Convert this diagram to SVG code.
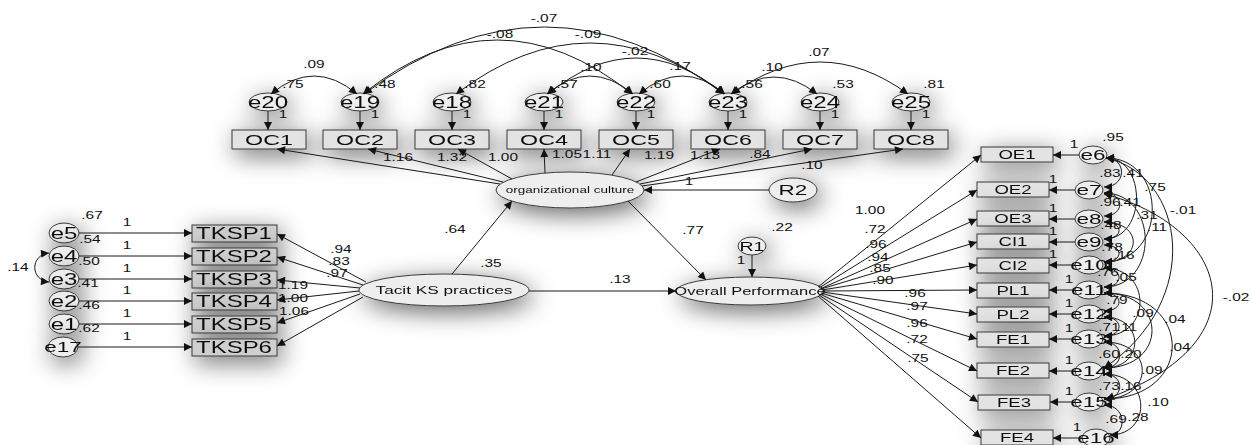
<svg xmlns="http://www.w3.org/2000/svg" width="1251" height="445" viewBox="0 0 1251 445">
<defs>
<marker id="ah" viewBox="0 0 10 10" refX="10" refY="5" markerWidth="10" markerHeight="8" markerUnits="userSpaceOnUse" orient="auto-start-reverse"><path d="M0,0 L10,5 L0,10 z" fill="#111"/></marker>
<filter id="sh" x="-100%" y="-300%" width="300%" height="700%">
<feGaussianBlur in="SourceAlpha" stdDeviation="12"/>
<feOffset dx="4" dy="6" result="b"/>
<feFlood flood-color="#000" flood-opacity="0.6"/>
<feComposite in2="b" operator="in"/>
<feMerge><feMergeNode/><feMergeNode in="SourceGraphic"/></feMerge>
</filter>
</defs>
<style>
.ln{stroke:#1a1a1a;stroke-width:1;fill:none;marker-end:url(#ah)}
.cv{stroke:#1a1a1a;stroke-width:1;fill:none;marker-start:url(#ah);marker-end:url(#ah)}
.box{fill:#e3e3e3;stroke:#3a3a3a;stroke-width:1}
.bxd{fill:#cfcfcf;stroke:#3a3a3a;stroke-width:1}
.el{fill:#eeeeee;stroke:#3a3a3a;stroke-width:1}
text{font-family:"Liberation Sans",Arial,sans-serif;fill:#111;text-anchor:middle;transform-box:fill-box;transform-origin:center;transform:scaleX(1.5)}
.n{font-size:11px;transform:scaleX(1.4)}
.oc{font-size:15.5px}
.tk{font-size:16px}
.et{font-size:16px}
.er{font-size:15px}
.rb{font-size:12px;transform:scaleX(1.55)}
</style>
<rect width="1251" height="445" fill="#ffffff"/>

<!-- top error terms -->
<g id="e20" filter="url(#sh)"><ellipse class="el" cx="268" cy="102" rx="19" ry="9"/><text class="et" x="268" y="108">e20</text></g>
<g id="e19" filter="url(#sh)"><ellipse class="el" cx="360" cy="102" rx="19" ry="9"/><text class="et" x="360" y="108">e19</text></g>
<g id="e18" filter="url(#sh)"><ellipse class="el" cx="452" cy="102" rx="19" ry="9"/><text class="et" x="452" y="108">e18</text></g>
<g id="e21" filter="url(#sh)"><ellipse class="el" cx="544" cy="102" rx="19" ry="9"/><text class="et" x="544" y="108">e21</text></g>
<g id="e22" filter="url(#sh)"><ellipse class="el" cx="636" cy="102" rx="19" ry="9"/><text class="et" x="636" y="108">e22</text></g>
<g id="e23" filter="url(#sh)"><ellipse class="el" cx="728" cy="102" rx="19" ry="9"/><text class="et" x="728" y="108">e23</text></g>
<g id="e24" filter="url(#sh)"><ellipse class="el" cx="820" cy="102" rx="19" ry="9"/><text class="et" x="820" y="108">e24</text></g>
<g id="e25" filter="url(#sh)"><ellipse class="el" cx="911" cy="102" rx="19" ry="9"/><text class="et" x="911" y="108">e25</text></g>

<!-- OC boxes -->
<g id="OC1" filter="url(#sh)"><rect class="box" x="232" y="130" width="74" height="19"/><text class="oc" x="269" y="145">OC1</text></g>
<g id="OC2" filter="url(#sh)"><rect class="box" x="323" y="130" width="74" height="19"/><text class="oc" x="360" y="145">OC2</text></g>
<g id="OC3" filter="url(#sh)"><rect class="box" x="415" y="130" width="74" height="19"/><text class="oc" x="452" y="145">OC3</text></g>
<g id="OC4" filter="url(#sh)"><rect class="box" x="507" y="130" width="74" height="19"/><text class="oc" x="544" y="145">OC4</text></g>
<g id="OC5" filter="url(#sh)"><rect class="box" x="599" y="130" width="74" height="19"/><text class="oc" x="636" y="145">OC5</text></g>
<g id="OC6" filter="url(#sh)"><rect class="box" x="691" y="130" width="74" height="19"/><text class="oc" x="728" y="145">OC6</text></g>
<g id="OC7" filter="url(#sh)"><rect class="box" x="783" y="130" width="74" height="19"/><text class="oc" x="820" y="145">OC7</text></g>
<g id="OC8" filter="url(#sh)"><rect class="box" x="874" y="130" width="74" height="19"/><text class="oc" x="911" y="145">OC8</text></g>

<!-- latent variables -->
<g id="orgculture" filter="url(#sh)"><ellipse class="el" cx="570" cy="190" rx="74" ry="18"/><text x="570" y="193" font-size="9">organizational culture</text></g>
<g id="R2" filter="url(#sh)"><ellipse class="el" cx="793" cy="190" rx="24" ry="12"/><text x="793" y="195" font-size="15">R2</text></g>
<g id="R1" filter="url(#sh)"><ellipse class="el" cx="752" cy="246" rx="14" ry="9"/><text x="752" y="251" font-size="13">R1</text></g>
<g id="tacit" filter="url(#sh)"><ellipse class="el" cx="444" cy="290" rx="85" ry="16"/><text x="444" y="294" font-size="11.5">Tacit KS practices</text></g>
<g id="overall" filter="url(#sh)"><ellipse class="el" cx="750" cy="291" rx="74" ry="14"/><text x="750" y="295" font-size="11">Overall Performance</text></g>

<!-- TKSP boxes -->
<g id="TKSP1" filter="url(#sh)"><rect class="bxd" x="192" y="225" width="85" height="17"/><text class="tk" x="234" y="239">TKSP1</text></g>
<g id="TKSP2" filter="url(#sh)"><rect class="bxd" x="192" y="248" width="85" height="17"/><text class="tk" x="234" y="262">TKSP2</text></g>
<g id="TKSP3" filter="url(#sh)"><rect class="bxd" x="192" y="271" width="85" height="17"/><text class="tk" x="234" y="285">TKSP3</text></g>
<g id="TKSP4" filter="url(#sh)"><rect class="bxd" x="192" y="293" width="85" height="17"/><text class="tk" x="234" y="307">TKSP4</text></g>
<g id="TKSP5" filter="url(#sh)"><rect class="bxd" x="192" y="316" width="85" height="17"/><text class="tk" x="234" y="330">TKSP5</text></g>
<g id="TKSP6" filter="url(#sh)"><rect class="bxd" x="192" y="339" width="85" height="17"/><text class="tk" x="234" y="353">TKSP6</text></g>

<!-- left error terms -->
<g id="e5" filter="url(#sh)"><ellipse class="el" cx="64" cy="233" rx="15" ry="10"/><text class="et" x="64" y="239">e5</text></g>
<g id="e4" filter="url(#sh)"><ellipse class="el" cx="64" cy="256" rx="15" ry="10"/><text class="et" x="64" y="262">e4</text></g>
<g id="e3" filter="url(#sh)"><ellipse class="el" cx="64" cy="279" rx="15" ry="10"/><text class="et" x="64" y="285">e3</text></g>
<g id="e2" filter="url(#sh)"><ellipse class="el" cx="64" cy="301" rx="15" ry="10"/><text class="et" x="64" y="307">e2</text></g>
<g id="e1" filter="url(#sh)"><ellipse class="el" cx="64" cy="324" rx="15" ry="10"/><text class="et" x="64" y="330">e1</text></g>
<g id="e17" filter="url(#sh)"><ellipse class="el" cx="63" cy="347" rx="15" ry="10"/><text class="er" x="63" y="352">e17</text></g>

<!-- right boxes -->
<g id="OE1" filter="url(#sh)"><rect class="box" x="981" y="147" width="72" height="15"/><text class="rb" x="1017" y="159">OE1</text></g>
<g id="OE2" filter="url(#sh)"><rect class="box" x="977" y="182" width="72" height="15"/><text class="rb" x="1013" y="194">OE2</text></g>
<g id="OE3" filter="url(#sh)"><rect class="box" x="977" y="211" width="72" height="15"/><text class="rb" x="1013" y="223">OE3</text></g>
<g id="CI1" filter="url(#sh)"><rect class="box" x="977" y="234" width="72" height="15"/><text class="rb" x="1013" y="246">CI1</text></g>
<g id="CI2" filter="url(#sh)"><rect class="box" x="977" y="258" width="72" height="15"/><text class="rb" x="1013" y="270">CI2</text></g>
<g id="PL1" filter="url(#sh)"><rect class="box" x="977" y="283" width="72" height="15"/><text class="rb" x="1013" y="295">PL1</text></g>
<g id="PL2" filter="url(#sh)"><rect class="box" x="977" y="307" width="72" height="15"/><text class="rb" x="1013" y="319">PL2</text></g>
<g id="FE1" filter="url(#sh)"><rect class="box" x="977" y="332" width="72" height="15"/><text class="rb" x="1013" y="344">FE1</text></g>
<g id="FE2" filter="url(#sh)"><rect class="box" x="977" y="363" width="72" height="15"/><text class="rb" x="1013" y="375">FE2</text></g>
<g id="FE3" filter="url(#sh)"><rect class="box" x="978" y="395" width="72" height="15"/><text class="rb" x="1014" y="407">FE3</text></g>
<g id="FE4" filter="url(#sh)"><rect class="box" x="981" y="430" width="72" height="15"/><text class="rb" x="1017" y="442">FE4</text></g>

<!-- right error terms -->
<g id="e6" filter="url(#sh)"><ellipse class="el" cx="1093" cy="155" rx="14" ry="9"/><text class="er" x="1093" y="160">e6</text></g>
<g id="e7" filter="url(#sh)"><ellipse class="el" cx="1089" cy="190" rx="14" ry="9"/><text class="er" x="1089" y="195">e7</text></g>
<g id="e8" filter="url(#sh)"><ellipse class="el" cx="1089" cy="219" rx="14" ry="9"/><text class="er" x="1089" y="224">e8</text></g>
<g id="e9" filter="url(#sh)"><ellipse class="el" cx="1089" cy="242" rx="14" ry="9"/><text class="er" x="1089" y="247">e9</text></g>
<g id="e10" filter="url(#sh)"><ellipse class="el" cx="1089" cy="265" rx="14" ry="9"/><text class="er" x="1089" y="270">e10</text></g>
<g id="e11" filter="url(#sh)"><ellipse class="el" cx="1089" cy="290" rx="14" ry="9"/><text class="er" x="1089" y="295">e11</text></g>
<g id="e12" filter="url(#sh)"><ellipse class="el" cx="1089" cy="314" rx="14" ry="9"/><text class="er" x="1089" y="319">e12</text></g>
<g id="e13" filter="url(#sh)"><ellipse class="el" cx="1089" cy="339" rx="14" ry="9"/><text class="er" x="1089" y="344">e13</text></g>
<g id="e14" filter="url(#sh)"><ellipse class="el" cx="1089" cy="371" rx="14" ry="9"/><text class="er" x="1089" y="376">e14</text></g>
<g id="e15" filter="url(#sh)"><ellipse class="el" cx="1089" cy="402" rx="14" ry="9"/><text class="er" x="1089" y="407">e15</text></g>
<g id="e16" filter="url(#sh)"><ellipse class="el" cx="1096" cy="438" rx="14" ry="9"/><text class="er" x="1096" y="443">e16</text></g>

<g id="connectors">
<path class="ln" d="M268,111 L268,130"/>
<path class="ln" d="M360,111 L360,130"/>
<path class="ln" d="M452,111 L452,130"/>
<path class="ln" d="M544,111 L544,130"/>
<path class="ln" d="M636,111 L636,130"/>
<path class="ln" d="M728,111 L728,130"/>
<path class="ln" d="M820,111 L820,130"/>
<path class="ln" d="M911,111 L911,130"/>
<path class="cv" d="M271,94 Q314,58 357,94"/>
<path class="cv" d="M364,94 Q545,-40 724,94"/>
<path class="cv" d="M363,94 Q497,-14 632,94"/>
<path class="cv" d="M456,94 Q590,-8 724,94"/>
<path class="cv" d="M548,94 Q636,22 724,94"/>
<path class="cv" d="M547,94 Q590,58 633,94"/>
<path class="cv" d="M639,94 Q682,58 725,94"/>
<path class="cv" d="M731,94 Q774,60 817,94"/>
<path class="cv" d="M732,94 Q820,30 908,94"/>
<path class="ln" d="M500,184 L277,149"/>
<path class="ln" d="M503,182 L368,149"/>
<path class="ln" d="M512,179 L458,149"/>
<path class="ln" d="M545,173 L544,149"/>
<path class="ln" d="M612,175 L630,149"/>
<path class="ln" d="M636,182 L720,149"/>
<path class="ln" d="M640,184 L812,149"/>
<path class="ln" d="M642,186 L903,149"/>
<path class="ln" d="M769,190 L644,190"/>
<path class="ln" d="M452,274 L512,201"/>
<path class="ln" d="M628,201 L706,280"/>
<path class="ln" d="M529,291 L676,291"/>
<path class="ln" d="M752,255 L752,277"/>
<path class="ln" d="M366,282 L277,234"/>
<path class="ln" d="M363,285 L277,257"/>
<path class="ln" d="M360,288 L277,280"/>
<path class="ln" d="M359,291 L277,300"/>
<path class="ln" d="M360,294 L277,323"/>
<path class="ln" d="M363,297 L277,346"/>
<path class="ln" d="M79,233 L192,233"/>
<path class="ln" d="M79,256 L192,256"/>
<path class="ln" d="M79,279 L192,279"/>
<path class="ln" d="M79,301 L192,301"/>
<path class="ln" d="M79,324 L192,324"/>
<path class="ln" d="M78,347 L192,347"/>
<path class="cv" d="M49,253 C30,255 30,280 49,282"/>
<path class="ln" d="M818,287 L981,155"/>
<path class="ln" d="M819,288 L977,190"/>
<path class="ln" d="M820,289 L977,219"/>
<path class="ln" d="M821,289 L977,242"/>
<path class="ln" d="M822,290 L977,265"/>
<path class="ln" d="M823,291 L977,290"/>
<path class="ln" d="M822,292 L977,314"/>
<path class="ln" d="M821,293 L977,339"/>
<path class="ln" d="M820,294 L977,371"/>
<path class="ln" d="M819,295 L978,402"/>
<path class="ln" d="M818,296 L981,438"/>
<path class="ln" d="M1079,155 L1053,155"/>
<path class="ln" d="M1075,190 L1049,190"/>
<path class="ln" d="M1075,219 L1049,219"/>
<path class="ln" d="M1075,242 L1049,242"/>
<path class="ln" d="M1075,265 L1049,265"/>
<path class="ln" d="M1075,290 L1049,290"/>
<path class="ln" d="M1075,314 L1049,314"/>
<path class="ln" d="M1075,339 L1049,339"/>
<path class="ln" d="M1075,371 L1049,371"/>
<path class="ln" d="M1075,402 L1050,402"/>
<path class="ln" d="M1082,438 L1053,438"/>
<path class="cv" d="M1106,158 C1127,158 1127,187 1104,187"/>
<path class="cv" d="M1106,158 C1147,158 1147,239 1104,239"/>
<path class="cv" d="M1106,158 C1168,158 1168,262 1104,262"/>
<path class="cv" d="M1106,158 C1185,175 1205,300 1104,368"/>
<path class="cv" d="M1104,193 C1125,193 1125,216 1104,216"/>
<path class="cv" d="M1104,193 C1159,193 1159,287 1104,287"/>
<path class="cv" d="M1104,194 C1225,225 1270,340 1106,399"/>
<path class="cv" d="M1104,222 C1124,222 1124,239 1104,239"/>
<path class="cv" d="M1104,222 C1143,222 1143,262 1104,262"/>
<path class="cv" d="M1104,245 C1124,245 1124,262 1104,262"/>
<path class="cv" d="M1104,268 C1124,268 1124,287 1104,287"/>
<path class="cv" d="M1104,268 C1152,268 1152,336 1104,336"/>
<path class="cv" d="M1104,293 C1124,293 1124,311 1104,311"/>
<path class="cv" d="M1104,293 C1168,293 1168,368 1104,368"/>
<path class="cv" d="M1104,293 C1195,293 1195,399 1104,399"/>
<path class="cv" d="M1104,317 C1124,317 1124,336 1104,336"/>
<path class="cv" d="M1104,317 C1145,317 1145,368 1104,368"/>
<path class="cv" d="M1104,342 C1125,342 1125,368 1104,368"/>
<path class="cv" d="M1104,342 C1155,342 1155,399 1104,399"/>
<path class="cv" d="M1104,374 C1125,374 1125,399 1104,399"/>
<path class="cv" d="M1104,374 C1152,374 1152,435 1110,435"/>
<path class="cv" d="M1104,405 C1127,405 1127,435 1110,435"/>
</g>

<g id="labels">
<text class="n" x="314" y="68">.09</text>
<text class="n" x="544" y="22">-.07</text>
<text class="n" x="500" y="38">-.08</text>
<text class="n" x="588" y="38">-.09</text>
<text class="n" x="635" y="55">-.02</text>
<text class="n" x="591" y="71">.10</text>
<text class="n" x="680" y="70">.17</text>
<text class="n" x="772" y="71">.10</text>
<text class="n" x="819" y="56">.07</text>
<text class="n" x="293" y="88">.75</text>
<text class="n" x="385" y="88">.48</text>
<text class="n" x="475" y="88">.82</text>
<text class="n" x="567" y="88">.57</text>
<text class="n" x="660" y="88">.60</text>
<text class="n" x="752" y="88">.56</text>
<text class="n" x="843" y="88">.53</text>
<text class="n" x="934" y="88">.81</text>
<text class="n" x="283" y="118">1</text>
<text class="n" x="375" y="118">1</text>
<text class="n" x="467" y="118">1</text>
<text class="n" x="559" y="118">1</text>
<text class="n" x="651" y="118">1</text>
<text class="n" x="743" y="118">1</text>
<text class="n" x="835" y="118">1</text>
<text class="n" x="926" y="118">1</text>
<text class="n" x="398" y="161">1.16</text>
<text class="n" x="452" y="161">1.32</text>
<text class="n" x="503" y="161">1.00</text>
<text class="n" x="567" y="158">1.05</text>
<text class="n" x="597" y="158">1.11</text>
<text class="n" x="659" y="159">1.19</text>
<text class="n" x="705" y="159">1.13</text>
<text class="n" x="760" y="158">.84</text>
<text class="n" x="812" y="169">.10</text>
<text class="n" x="689" y="185">1</text>
<text class="n" x="455" y="233">.64</text>
<text class="n" x="491" y="267">.35</text>
<text class="n" x="693" y="234">.77</text>
<text class="n" x="620" y="283">.13</text>
<text class="n" x="782" y="231">.22</text>
<text class="n" x="741" y="264">1</text>
<text class="n" x="341" y="253">.94</text>
<text class="n" x="339" y="265">.83</text>
<text class="n" x="337" y="277">.97</text>
<text class="n" x="293" y="289">1.19</text>
<text class="n" x="293" y="302">1.00</text>
<text class="n" x="294" y="315">1.06</text>
<text class="n" x="92" y="219">.67</text>
<text class="n" x="90" y="243">.54</text>
<text class="n" x="89" y="265">.50</text>
<text class="n" x="88" y="287">.41</text>
<text class="n" x="89" y="309">.46</text>
<text class="n" x="89" y="332">.62</text>
<text class="n" x="18" y="271">.14</text>
<text class="n" x="127" y="226">1</text>
<text class="n" x="127" y="249">1</text>
<text class="n" x="127" y="272">1</text>
<text class="n" x="127" y="294">1</text>
<text class="n" x="127" y="317">1</text>
<text class="n" x="127" y="340">1</text>
<text class="n" x="870" y="214">1.00</text>
<text class="n" x="875" y="233">.72</text>
<text class="n" x="876" y="248">.96</text>
<text class="n" x="878" y="261">.94</text>
<text class="n" x="880" y="272">.85</text>
<text class="n" x="883" y="284">.90</text>
<text class="n" x="915" y="297">.96</text>
<text class="n" x="917" y="310">.97</text>
<text class="n" x="917" y="327">.96</text>
<text class="n" x="917" y="343">.72</text>
<text class="n" x="918" y="362">.75</text>
<text class="n" x="1074" y="148">1</text>
<text class="n" x="1053" y="183">1</text>
<text class="n" x="1053" y="212">1</text>
<text class="n" x="1053" y="235">1</text>
<text class="n" x="1053" y="258">1</text>
<text class="n" x="1069" y="283">1</text>
<text class="n" x="1069" y="307">1</text>
<text class="n" x="1069" y="332">1</text>
<text class="n" x="1069" y="364">1</text>
<text class="n" x="1069" y="395">1</text>
<text class="n" x="1077" y="431">1</text>
<text class="n" x="1113" y="141">.95</text>
<text class="n" x="1110" y="177">.83</text>
<text class="n" x="1133" y="177">.41</text>
<text class="n" x="1155" y="191">.75</text>
<text class="n" x="1183" y="214">-.01</text>
<text class="n" x="1110" y="206">.96</text>
<text class="n" x="1130" y="206">.41</text>
<text class="n" x="1147" y="219">.31</text>
<text class="n" x="1157" y="231">.11</text>
<text class="n" x="1111" y="229">.48</text>
<text class="n" x="1112" y="251">.78</text>
<text class="n" x="1124" y="259">.16</text>
<text class="n" x="1108" y="276">.76</text>
<text class="n" x="1126" y="281">.05</text>
<text class="n" x="1117" y="304">.79</text>
<text class="n" x="1143" y="317">.09</text>
<text class="n" x="1175" y="323">.04</text>
<text class="n" x="1109" y="331">.71</text>
<text class="n" x="1127" y="331">.11</text>
<text class="n" x="1180" y="351">.04</text>
<text class="n" x="1109" y="358">.60</text>
<text class="n" x="1131" y="358">.20</text>
<text class="n" x="1152" y="374">.09</text>
<text class="n" x="1109" y="390">.73</text>
<text class="n" x="1131" y="390">.16</text>
<text class="n" x="1158" y="406">.10</text>
<text class="n" x="1116" y="423">.69</text>
<text class="n" x="1138" y="421">.28</text>
<text class="n" x="1236" y="301">-.02</text>
</g>
</svg>
